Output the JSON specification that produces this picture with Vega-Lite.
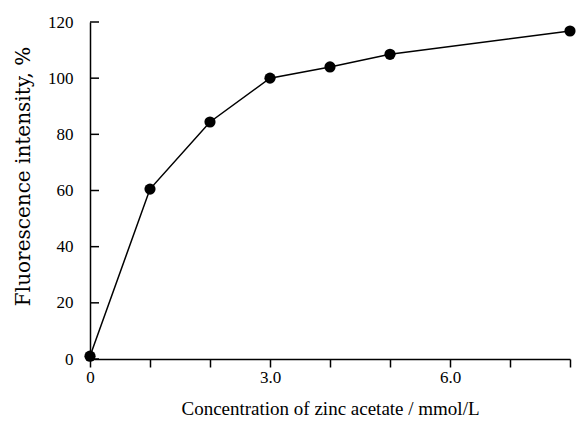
{
  "$schema": "https://vega.github.io/schema/vega-lite/v6.json",
  "width": 480,
  "height": 337,
  "autosize": {"type": "none"},
  "padding": {"left": 90, "top": 22, "right": 9, "bottom": 62},
  "background": "white",
  "config": {
    "view": {"stroke": null},
    "font": "Liberation Serif",
    "axis": {
      "labelFont": "Liberation Serif",
      "titleFont": "Liberation Serif",
      "labelColor": "black",
      "titleColor": "black",
      "domainColor": "black",
      "tickColor": "black",
      "domainWidth": 1.5,
      "tickWidth": 1.5,
      "grid": false,
      "labelFontSize": 17,
      "titleFontSize": 19,
      "titleFontWeight": "normal"
    }
  },
  "data": {
    "values": [
      {"c": 0, "f": 1},
      {"c": 1, "f": 60.5},
      {"c": 2, "f": 84.4},
      {"c": 3, "f": 100},
      {"c": 4, "f": 104},
      {"c": 5, "f": 108.5},
      {"c": 8, "f": 116.8}
    ]
  },
  "layer": [
    {
      "mark": {"type": "line", "color": "black", "strokeWidth": 1.5},
      "encoding": {
        "x": {
          "field": "c",
          "type": "quantitative",
          "scale": {"domain": [0, 8], "nice": false, "zero": false},
          "axis": {
            "title": "Concentration of zinc acetate / mmol/L",
            "values": [0, 1, 2, 3, 4, 5, 6, 7, 8],
            "labelExpr": "datum.value == 0 ? '0' : (datum.value % 3 == 0 ? format(datum.value, '.1f') : '')",
            "labelFont": "Liberation Serif",
            "tickSize": 8,
            "labelPadding": 2,
            "titlePadding": 14,
            "labelFlush": false
          }
        },
        "y": {
          "field": "f",
          "type": "quantitative",
          "scale": {"domain": [0, 120], "nice": false},
          "axis": {
            "orient": "left",
            "title": "Fluorescence intensity, %",
            "values": [0, 20, 40, 60, 80, 100, 120],
            "ticks": false,
            "labelFont": "Liberation Serif",
            "labelPadding": 17,
            "titlePadding": 14,
            "titleFont": "DejaVu Serif",
            "titleFontSize": 20,
            "titleY": 154,
            "labelFlush": false
          }
        }
      }
    },
    {
      "mark": {"type": "circle", "color": "black", "opacity": 1, "size": 125},
      "encoding": {
        "x": {"field": "c", "type": "quantitative"},
        "y": {"field": "f", "type": "quantitative"}
      }
    },
    {
      "data": {"values": [{"f": 0}, {"f": 20}, {"f": 40}, {"f": 60}, {"f": 80}, {"f": 100}, {"f": 120}]},
      "mark": {"type": "tick", "orient": "horizontal", "size": 9, "thickness": 1.5, "xOffset": 4.5, "color": "black", "opacity": 1},
      "encoding": {
        "x": {"datum": 0, "type": "quantitative"},
        "y": {"field": "f", "type": "quantitative"}
      }
    }
  ]
}
